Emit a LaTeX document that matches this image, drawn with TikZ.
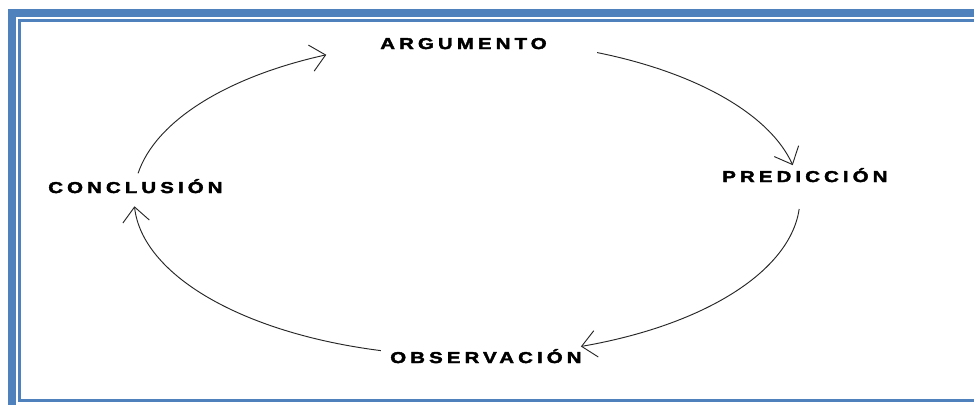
\documentclass[tikz,border=0pt]{standalone}
\usepackage{fontspec}
\usetikzlibrary{arrows.meta,calc}
\newfontfamily\lblfont[LetterSpace=26,FakeStretch=1.3,FakeBold=2.5]{Liberation Sans Bold}
\definecolor{frameblue}{HTML}{4F81BD}
\begin{document}
\begin{tikzpicture}[x=0.75pt,y=-0.75pt,
  lbl/.style={inner sep=0pt,anchor=base west,font=\lblfont\fontsize{11.8pt}{12pt}\selectfont},
  cyc/.style={draw=black!85,line width=0.7pt,-{Straight Barb[length=11pt,width=20pt,line width=0.7pt]}}]
\useasboundingbox (0,0) rectangle (974,404);
% frame
\fill[frameblue] (8,9) rectangle (980,410);
\fill[white] (16,17) rectangle (980,410);
\fill[frameblue] (18,19) rectangle (980,402);
\fill[white] (21,22) rectangle (980,399);
% labels
\node[lbl] (arg) at (380,49) {ARGUMENTO};
\node[lbl] (pre) at (722,182) {PREDICCIÓN};
\node[lbl] (obs) at (390,363) {OBSERVACIÓN};
\node[lbl] (con) at (48,193) {CONCLUSIÓN};
% cycle
\coordinate (c) at (467,198);
\coordinate (s1) at ($(c)+(-67:333 and 158)$);
\coordinate (s2) at ($(c)+(4:333 and 158)$);
\coordinate (s3) at ($(c)+(105:333 and 158)$);
\coordinate (s4) at ($(c)+(189:333 and 158)$);
\draw[cyc] (s1) arc[start angle=-67,end angle=-12,x radius=333,y radius=158];
\draw[cyc] (s2) arc[start angle=4,end angle=70,x radius=333,y radius=158];
\draw[cyc] (s3) arc[start angle=105,end angle=177,x radius=333,y radius=158];
\draw[cyc] (s4) arc[start angle=189,end angle=245,x radius=333,y radius=158];
\end{tikzpicture}
\end{document}
